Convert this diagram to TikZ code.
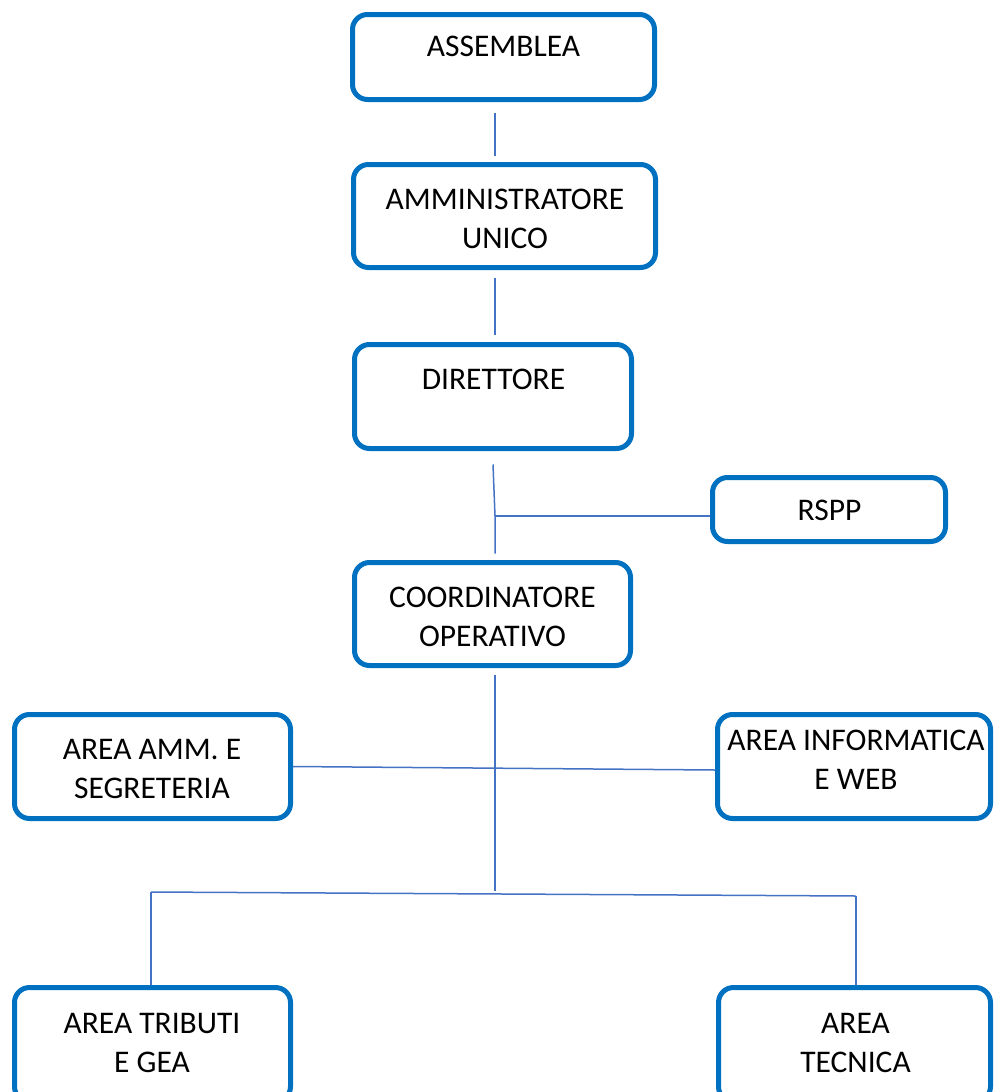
\documentclass[tikz,border=0pt]{standalone}
\usepackage{fontspec}
\setmainfont{Carlito}
\usetikzlibrary{calc}
\definecolor{boxblue}{HTML}{0070C0}
\definecolor{lineblue}{HTML}{4472C4}
\tikzset{
  box/.style={draw=boxblue, line width=5pt, rounded corners=15pt, fill=white, inner sep=0pt},
  lbl/.style={align=center, inner sep=0pt, font=\fontsize{31.5}{39}\selectfont},
  conn/.style={draw=lineblue, line width=1.5pt}
}
\begin{document}
\begin{tikzpicture}[x=1pt,y=-1pt]
\useasboundingbox (0,0) rectangle (993,1092);
\clip (0,0) rectangle (993,1092);
\fill[white] (0,0) rectangle (993,1092);
% boxes
\node[box, minimum width=302pt, minimum height=85pt] (asm) at (503.5,57) {};
\node[box, minimum width=302pt, minimum height=103pt] (amm) at (504.5,216) {};
\node[box, minimum width=277pt, minimum height=104pt] (dir) at (493,396.5) {};
\node[box, minimum width=233pt, minimum height=64pt] (rspp) at (829,509.5) {};
\node[box, minimum width=276pt, minimum height=103pt] (coord) at (492.5,614) {};
\node[box, minimum width=276pt, minimum height=104pt] (aam) at (152.5,766.5) {};
\node[box, minimum width=273pt, minimum height=104pt] (ainf) at (854,766.5) {};
\node[box, minimum width=276pt, minimum height=114pt] (atri) at (152.5,1044.5) {};
\node[box, minimum width=272pt, minimum height=114pt] (atec) at (854.5,1044.5) {};
% labels
\node[lbl] (tasm) at (503.5,46) {ASSEMBLEA};
\node[lbl] (tamm) at (505,218.5) {AMMINISTRATORE\\UNICO};
\node[lbl] (tdir) at (493.5,379) {DIRETTORE};
\node[lbl] (trspp) at (829.5,510) {RSPP};
\node[lbl] (tcoord) at (492.5,616.5) {COORDINATORE\\OPERATIVO};
\node[lbl] (taam) at (152,768.5) {AREA AMM. E\\SEGRETERIA};
\node[lbl] (tainf) at (856,760) {AREA INFORMATICA\\E WEB};
\node[lbl] (tatri) at (152,1043) {AREA TRIBUTI\\E GEA};
\node[lbl] (tatec) at (855.5,1043) {AREA\\TECNICA};
% junctions
\coordinate (j1) at (495,516);
\coordinate (j2) at (495,891);
\coordinate (jl) at (151,892);
\coordinate (jr) at (856,896);
% connectors
\draw[conn] ($(asm.south)+(-8.5,10.5)$) -- ($(amm.north)+(-9.5,-6.5)$);
\draw[conn] ($(amm.south)+(-9.5,7.5)$) -- ($(dir.north)+(2,-7.5)$);
\draw[conn] ($(dir.south)+(0,13.5)$) -- (j1) -- ($(coord.north)+(2.5,-6.5)$);
\draw[conn] (j1) -- (j1 -| rspp.west);
\draw[conn] ($(coord.south)+(2.5,6.5)$) -- (j2);
\draw[conn] (aam.east) -- ($(ainf.west)+(0,3.5)$);
\draw[conn] (jl) -- (jr);
\draw[conn] (jl) -- (jl |- atri.north);
\draw[conn] (jr) -- (jr |- atec.north);
\end{tikzpicture}
\end{document}
